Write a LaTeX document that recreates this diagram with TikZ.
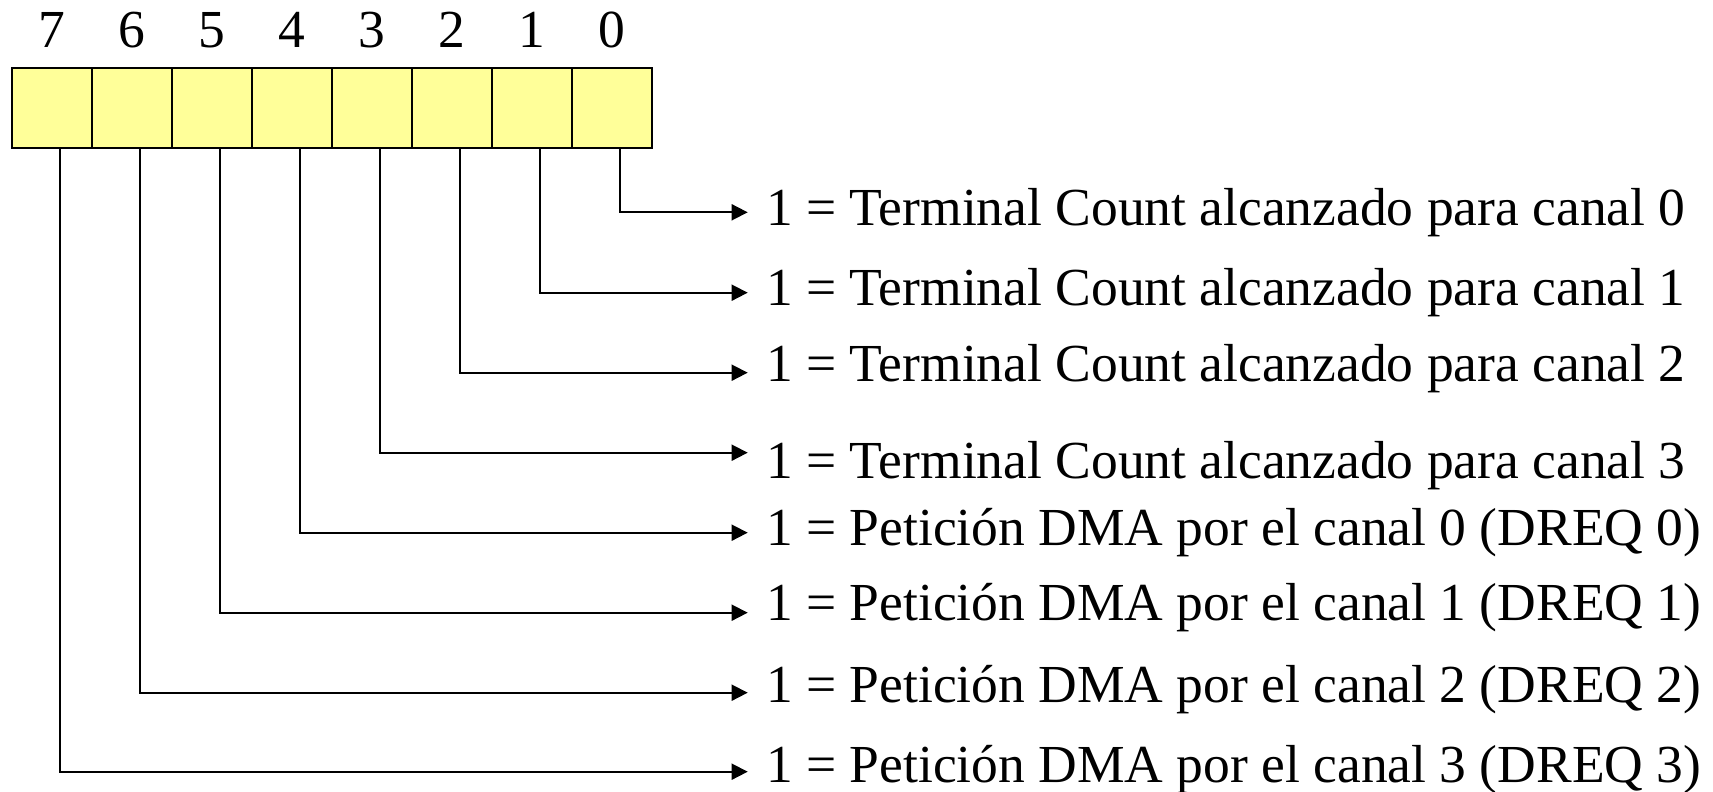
\documentclass[tikz,border=0pt]{standalone}
\usepackage{fontspec}
\setmainfont{Liberation Serif}
\usetikzlibrary{arrows.meta}
\definecolor{regfill}{HTML}{FFFF99}
\begin{document}
\begin{tikzpicture}[x=1pt,y=-1pt,
  font=\fontsize{53.5}{60}\selectfont,
  bitcell/.style={draw, line width=1.8pt, fill=regfill, minimum width=80pt,
    minimum height=79.4pt, inner sep=0pt, outer sep=0pt},
  bitnum/.style={anchor=base, inner sep=0pt},
  desc/.style={anchor=base west, inner sep=0pt},
  link/.style={line width=1.8pt, -{Triangle[length=16pt,width=16pt]}}]
\useasboundingbox (0,0) rectangle (1713,792);

% status register: eight bit cells, bit 7 on the left
\foreach \b [count=\i from 0] in {7,6,5,4,3,2,1,0} {
  \node[bitcell] (c\b) at (51.7+80*\i,108) {};
  \node[bitnum] (n\b) at (51.7+80*\i,48) {\b};
  \coordinate (p\b) at (59.7+80*\i,147.7);
}

% meaning of each bit
\node[desc] (t0) at (766,225)   {1 = Terminal Count alcanzado para canal 0};
\node[desc] (t1) at (766,305)   {1 = Terminal Count alcanzado para canal 1};
\node[desc] (t2) at (766,381.7) {1 = Terminal Count alcanzado para canal 2};
\node[desc] (t3) at (766,478.3) {1 = Terminal Count alcanzado para canal 3};
\node[desc] (t4) at (766,545)   {1 = Petición DMA por el canal 0 (DREQ 0)};
\node[desc] (t5) at (766,620)   {1 = Petición DMA por el canal 1 (DREQ 1)};
\node[desc] (t6) at (766,702)   {1 = Petición DMA por el canal 2 (DREQ 2)};
\node[desc] (t7) at (766,782.7) {1 = Petición DMA por el canal 3 (DREQ 3)};

% arrow tips in front of each description
\coordinate (e0) at (747.7,212.3);
\coordinate (e1) at (747.7,292.7);
\coordinate (e2) at (747.7,372.7);
\coordinate (e3) at (747.7,452.7);
\coordinate (e4) at (747.7,532.7);
\coordinate (e5) at (747.7,612.7);
\coordinate (e6) at (747.7,692.7);
\coordinate (e7) at (747.7,771.7);

\foreach \b in {0,...,7}
  \draw[link] (p\b) |- (e\b);
\end{tikzpicture}
\end{document}
